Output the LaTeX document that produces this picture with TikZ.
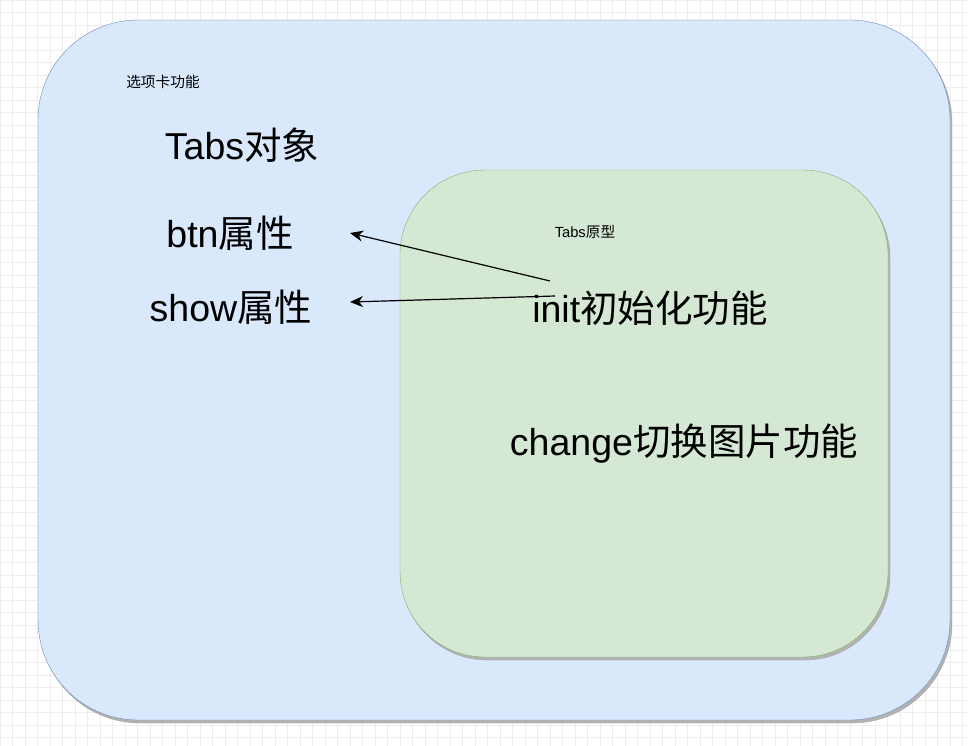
\documentclass[tikz,border=0pt]{standalone}
\usepackage{fontspec}
\setmainfont{Liberation Sans}
\newfontfamily\cjk{Noto Sans CJK SC}
\usepackage{xcolor}
\usepackage{tikz}
\usetikzlibrary{arrows.meta}

\definecolor{tabsblue}{HTML}{DAE8FC}
\definecolor{tabsblueline}{HTML}{6C8EBF}
\definecolor{protogreen}{HTML}{D5E8D4}
\definecolor{protogreenline}{HTML}{82B366}

\begin{document}
\begin{tikzpicture}[x=1pt,y=-1pt,
  bigtext/.style={font=\fontsize{37.5}{42}\selectfont},
  smalltext/.style={font=\fontsize{14.7}{17}\selectfont},
  callarrow/.style={-{Stealth[length=13pt,width=11pt,inset=4pt]}, line width=1.2pt}]
\useasboundingbox (0,0) rectangle (968,746);
\fill[white] (0,0) rectangle (968,746);
\foreach \k in {0,...,77} {\draw[black!7, line width=0.6pt] (12.5*\k,0) -- (12.5*\k,746);}
\foreach \k in {0,...,59} {\draw[black!7, line width=0.6pt] (0,12.5*\k) -- (968,12.5*\k);}
\filldraw[color=black!35, fill=black!30, rounded corners=100pt] (40,23) rectangle (952,723);
\filldraw[color=tabsblueline, fill=tabsblue, rounded corners=100pt] (38,20) rectangle (950,720);
\filldraw[color=black!35, fill=black!30, rounded corners=85pt] (402,173) rectangle (890,660);
\filldraw[color=protogreenline, fill=protogreen, rounded corners=85pt] (400,170) rectangle (888,657);
\node (tabsfn) at (163,82) [smalltext] {\cjk 选项卡功能};
\node (tabsobj) at (242,145) [bigtext] {Tabs{\cjk 对象}};
\node (btnattr) at (230,233) [bigtext] {btn{\cjk 属性}};
\node (showattr) at (231,307) [bigtext] {show{\cjk 属性}};
\node (proto) at (585,232) [smalltext] {Tabs{\cjk 原型}};
\node (initfn) at (650,308) [bigtext] {init{\cjk 初始化功能}};
\node (changefn) at (684,444) [bigtext] {change{\cjk 切换图片功能}};
\coordinate (btnend) at (350,233);
\coordinate (showend) at (350,302);
\coordinate (initout1) at (550,281);
\coordinate (initout2) at (555,296);
\draw[callarrow] (initout1) -- (btnend);
\draw[callarrow] (initout2) -- (showend);
\end{tikzpicture}
\end{document}
